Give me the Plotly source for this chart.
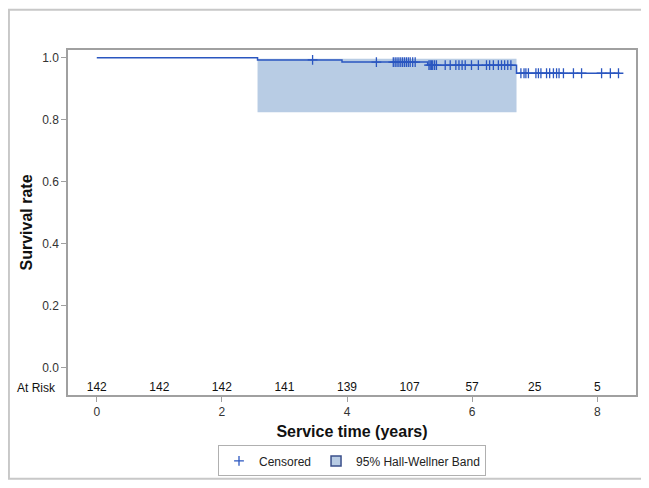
import plotly.graph_objects as go

# ---- data ----
event_times = [0.0, 2.57, 3.92, 5.29, 6.71]
survival = [1.0, 0.993, 0.986, 0.976, 0.950]
last_time = 8.36

censored_times = [
    3.45,
    4.47, 4.74, 4.77, 4.80, 4.83, 4.86, 4.89, 4.92, 4.95, 4.98, 5.01, 5.05, 5.09,
    5.31, 5.33, 5.35, 5.37, 5.40, 5.43, 5.57, 5.65, 5.74, 5.79, 5.84, 5.89,
    5.99, 6.10, 6.23, 6.28, 6.34, 6.42, 6.47, 6.52, 6.57, 6.62,
    6.78, 6.83, 6.86, 6.90, 7.02, 7.06, 7.10, 7.19, 7.24, 7.30, 7.35, 7.39,
    7.46, 7.62, 7.75, 8.07, 8.21, 8.34,
]

band_start, band_end = 2.57, 6.71
band_lower, band_upper = 0.824, 0.997

risk_times = [0, 1, 2, 3, 4, 5, 6, 7, 8]
at_risk = [142, 142, 142, 141, 139, 107, 57, 25, 5]

x_ticks = [0, 2, 4, 6, 8]
y_ticks = [0.0, 0.2, 0.4, 0.6, 0.8, 1.0]


def surv_at(t):
    s = survival[0]
    for et, sv in zip(event_times, survival):
        if t >= et:
            s = sv
    return s


LINE = "#2a56c0"
BAND = "#b8cce4"
AXIS = "#a0a0a0"
NARROW = "Liberation Sans Narrow, Arial Narrow, Liberation Sans, Arial"
TICKFONT = dict(family=NARROW, size=12, color="#333333")

fig = go.Figure()

# band
fig.add_trace(go.Scatter(
    x=[band_start, band_end, band_end, band_start, band_start],
    y=[band_lower, band_lower, band_upper, band_upper, band_lower],
    fill="toself", fillcolor=BAND, mode="lines",
    line=dict(width=0, color=BAND), showlegend=False, hoverinfo="skip",
))

# survival step line
fig.add_trace(go.Scatter(
    x=event_times + [last_time], y=survival + [survival[-1]],
    mode="lines", line=dict(color=LINE, width=1.5, shape="hv"),
    showlegend=False,
))

# censored marks
fig.add_trace(go.Scatter(
    x=censored_times, y=[surv_at(t) for t in censored_times],
    mode="markers", name="Censored",
    marker=dict(symbol="cross-thin", size=7, line=dict(color=LINE, width=1.3), color=LINE),
))

# legend-only band entry
fig.add_trace(go.Scatter(
    x=[None], y=[None], mode="markers", name="95% Hall-Wellner Band",
    marker=dict(symbol="square", size=10, color=BAND, line=dict(color="#3a4f8a", width=1.5)),
))

# at-risk row
fig.add_trace(go.Scatter(
    x=risk_times, y=[-0.067] * len(risk_times),
    mode="text", text=[str(v) for v in at_risk],
    textfont=dict(family=NARROW, size=12, color="#111111"),
    showlegend=False, hoverinfo="skip",
))

fig.add_annotation(
    text="At Risk", xref="paper", yref="y", x=-0.018, y=-0.067,
    xanchor="right", yanchor="middle", showarrow=False,
    font=dict(family=NARROW, size=12, color="#111111"),
)

# outer border of the image
fig.add_shape(
    type="rect", xref="paper", yref="paper",
    x0=-0.104, x1=1.0176, y0=-0.243, y1=1.117,
    line=dict(color="#c8c8c8", width=2), fillcolor="rgba(0,0,0,0)", layer="below",
)

fig.update_layout(
    width=641, height=480,
    margin=dict(l=60, r=13, t=42, b=88),
    paper_bgcolor="white", plot_bgcolor="white",
    showlegend=True,
    legend=dict(
        orientation="h", x=0.5, xanchor="center", y=-0.191, yanchor="middle",
        bordercolor="#b0b0b0", borderwidth=1,
        font=dict(family="Liberation Sans, Arial", size=12, color="#222222"),
        itemwidth=30, tracegroupgap=0,
    ),
    xaxis=dict(
        range=[-0.46, 8.62], tickvals=x_ticks, ticks="outside", ticklen=5,
        tickcolor=AXIS, showline=True, linecolor=AXIS, linewidth=1.5, mirror=True,
        showgrid=False, zeroline=False, tickfont=TICKFONT,
        title=dict(text="<b>Service time (years)</b>",
                   font=dict(family="Liberation Sans, Arial", size=16, color="#111111"),
                   standoff=8),
    ),
    yaxis=dict(
        range=[-0.089, 1.025], tickvals=y_ticks, tickformat=".1f", ticks="outside",
        ticklen=5, tickcolor=AXIS, showline=True, linecolor=AXIS, linewidth=1.5,
        mirror=True, showgrid=False, zeroline=False, tickfont=TICKFONT,
        title=dict(text="<b>Survival rate</b>",
                   font=dict(family="Liberation Sans, Arial", size=16, color="#111111"),
                   standoff=6),
    ),
)

fig.write_html("out.html")
